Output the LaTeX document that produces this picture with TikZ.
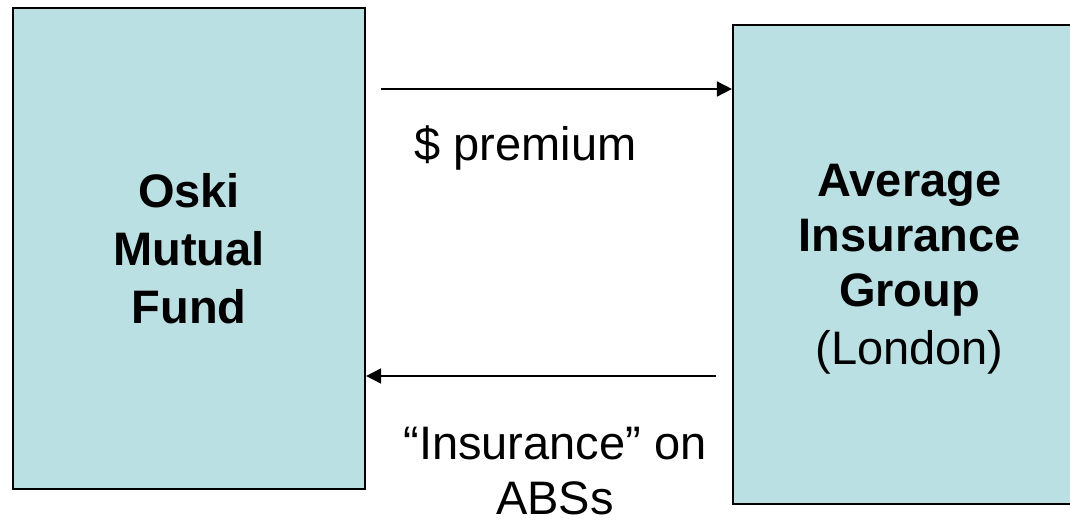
\documentclass[tikz,border=0pt]{standalone}
\usepackage{fontspec}
\setmainfont{Liberation Sans}
\usetikzlibrary{arrows.meta}
\definecolor{boxfill}{RGB}{187,224,227}
\tikzset{
  party/.style={draw=black, line width=2.2pt, fill=boxfill, inner sep=0pt},
  boxtext/.style={align=center, inner sep=0pt, font=\fontsize{47}{58}\selectfont},
  flowlabel/.style={align=center, inner sep=0pt, font=\fontsize{47}{55}\selectfont},
  flow/.style={line width=1.8pt, -{Triangle[length=15pt,width=15pt]}}
}
\begin{document}
\begin{tikzpicture}[x=1pt,y=1pt]
\useasboundingbox (0,0) rectangle (1070,525);
\clip (0,0) rectangle (1070,525);
\node[party, minimum width=352pt, minimum height=481pt] (oski) at (189,276.5) {};
\node[party, minimum width=353pt, minimum height=479pt] (aig) at (909.5,260.5) {};
\node[boxtext] (oskitext) at (189,276) {\textbf{Oski}\\\textbf{Mutual}\\\textbf{Fund}};
\node[boxtext, font=\fontsize{47}{55}\selectfont] (aigtext) at (909.5,256) {\textbf{Average}\\\textbf{Insurance}\\\textbf{Group}\\[3pt](London)};
\coordinate (ptail) at (381,436);
\coordinate (itail) at (716,149);
\draw[flow] (ptail) -- (ptail -| aig.west);
\draw[flow] (itail) -- (itail -| oski.east);
\node[flowlabel, anchor=base] (premium) at (525.5,364) {\$ premium};
\node[flowlabel] (insurance) at (555,54) {“Insurance” on\\ABSs};
\end{tikzpicture}
\end{document}
